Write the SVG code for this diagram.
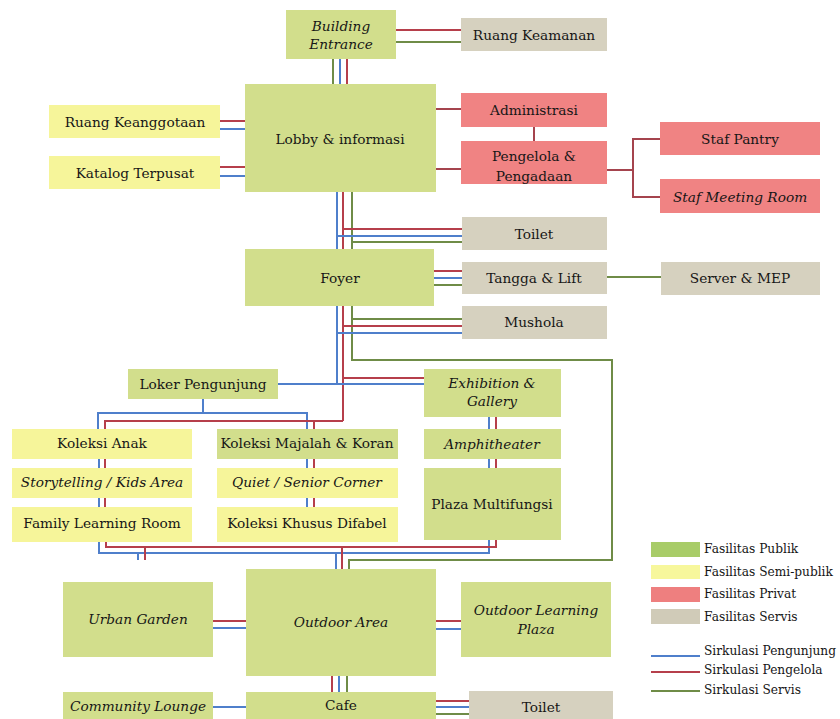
<svg xmlns="http://www.w3.org/2000/svg" width="840" height="719" viewBox="0 0 840 719">
<style>
.pub{fill:#d2de8c}
.semi{fill:#f6f59a}
.priv{fill:#f08383}
.serv{fill:#d6d1bf}
text{font-family:"DejaVu Serif","Liberation Serif",serif;font-size:13.7px;fill:#161616;text-anchor:middle;dominant-baseline:central}
.it{font-style:italic}
.lg{text-anchor:start;font-size:12.2px}
.b{stroke:#4f7fcb;stroke-width:2;fill:none}
.r{stroke:#b63f4b;stroke-width:2;fill:none}
.g{stroke:#6f8c47;stroke-width:2;fill:none}
.p{stroke:#a5444e;stroke-width:2;fill:none}
</style>
<rect width="840" height="719" fill="#ffffff"/>

<g id="connectors">
  <line class="r" x1="396" y1="30" x2="461" y2="30"/>
  <line class="g" x1="396" y1="42" x2="461" y2="42"/>
  <line class="g" x1="333" y1="59" x2="333" y2="84"/>
  <line class="b" x1="340" y1="59" x2="340" y2="84"/>
  <line class="r" x1="347" y1="59" x2="347" y2="84"/>
  <line class="r" x1="220" y1="121" x2="245" y2="121"/>
  <line class="b" x1="220" y1="129" x2="245" y2="129"/>
  <line class="r" x1="220" y1="167" x2="245" y2="167"/>
  <line class="b" x1="220" y1="176" x2="245" y2="176"/>
  <line class="p" x1="436" y1="109" x2="461" y2="109"/>
  <line class="p" x1="436" y1="169" x2="461" y2="169"/>
  <line class="p" x1="534" y1="127" x2="534" y2="141"/>
  <polyline class="p" points="607,170 633,170"/>
  <polyline class="p" points="660,139 633,139 633,197 660,197"/>
  <line class="b" x1="337" y1="192" x2="337" y2="249"/>
  <line class="r" x1="343" y1="192" x2="343" y2="249"/>
  <line class="g" x1="352" y1="192" x2="352" y2="249"/>
  <line class="r" x1="343" y1="229" x2="462" y2="229"/>
  <line class="b" x1="337" y1="236" x2="462" y2="236"/>
  <line class="g" x1="352" y1="242" x2="462" y2="242"/>
  <line class="r" x1="434" y1="271" x2="462" y2="271"/>
  <line class="b" x1="434" y1="278" x2="462" y2="278"/>
  <line class="g" x1="434" y1="285" x2="462" y2="285"/>
  <line class="g" x1="607" y1="277" x2="661" y2="277"/>
  <line class="b" x1="337" y1="306" x2="337" y2="384"/>
  <line class="r" x1="343" y1="306" x2="343" y2="421"/>
  <polyline class="g" points="352,306 352,360 612,360 612,560 349,560 349,569"/>
  <line class="g" x1="352" y1="319" x2="462" y2="319"/>
  <line class="r" x1="343" y1="326" x2="462" y2="326"/>
  <line class="b" x1="337" y1="333" x2="462" y2="333"/>
  <line class="r" x1="343" y1="378" x2="424" y2="378"/>
  <line class="b" x1="278" y1="384" x2="424" y2="384"/>
  <line class="b" x1="203" y1="399" x2="203" y2="413"/>
  <polyline class="b" points="98,429 98,413 307,413 307,429"/>
  <polyline class="r" points="105,429 105,421 343,421"/>
  <line class="r" x1="314" y1="421" x2="314" y2="429"/>
  <line class="b" x1="99" y1="459" x2="99" y2="468"/>
  <line class="r" x1="105" y1="459" x2="105" y2="468"/>
  <line class="b" x1="99" y1="498" x2="99" y2="507"/>
  <line class="r" x1="105" y1="498" x2="105" y2="507"/>
  <line class="b" x1="307" y1="459" x2="307" y2="468"/>
  <line class="r" x1="314" y1="459" x2="314" y2="468"/>
  <line class="b" x1="307" y1="498" x2="307" y2="507"/>
  <line class="r" x1="314" y1="498" x2="314" y2="507"/>
  <line class="b" x1="489" y1="417" x2="489" y2="429"/>
  <line class="r" x1="496" y1="417" x2="496" y2="429"/>
  <line class="b" x1="489" y1="459" x2="489" y2="468"/>
  <line class="r" x1="496" y1="459" x2="496" y2="468"/>
  <polyline class="b" points="99,542 99,553 489,553 489,540"/>
  <polyline class="r" points="106,542 106,547 496,547 496,540"/>
  <line class="b" x1="138" y1="553" x2="138" y2="560"/>
  <line class="r" x1="145" y1="547" x2="145" y2="560"/>
  <line class="b" x1="336" y1="553" x2="336" y2="569"/>
  <line class="r" x1="342" y1="547" x2="342" y2="569"/>
  <line class="r" x1="213" y1="621" x2="246" y2="621"/>
  <line class="b" x1="213" y1="628" x2="246" y2="628"/>
  <line class="r" x1="436" y1="621" x2="461" y2="621"/>
  <line class="b" x1="436" y1="629" x2="461" y2="629"/>
  <line class="r" x1="332" y1="676" x2="332" y2="692"/>
  <line class="b" x1="339" y1="676" x2="339" y2="692"/>
  <line class="g" x1="347" y1="676" x2="347" y2="692"/>
  <line class="b" x1="213" y1="707" x2="246" y2="707"/>
  <line class="r" x1="436" y1="701" x2="469" y2="701"/>
  <line class="b" x1="436" y1="707" x2="469" y2="707"/>
  <line class="g" x1="436" y1="714" x2="469" y2="714"/>
</g>

<g id="building-entrance"><rect class="pub" x="286" y="10" width="110" height="49"/><text class="it" x="341" y="26">Building</text><text class="it" x="341" y="44">Entrance</text></g>
<g id="ruang-keamanan"><rect class="serv" x="461" y="18" width="146" height="33"/><text x="534" y="35">Ruang Keamanan</text></g>
<g id="lobby"><rect class="pub" x="245" y="84" width="191" height="108"/><text x="340" y="139">Lobby &amp; informasi</text></g>
<g id="ruang-keanggotaan"><rect class="semi" x="49" y="105" width="171" height="33"/><text x="135" y="122">Ruang Keanggotaan</text></g>
<g id="katalog"><rect class="semi" x="49" y="156" width="171" height="33"/><text x="135" y="173">Katalog Terpusat</text></g>
<g id="administrasi"><rect class="priv" x="461" y="93" width="146" height="34"/><text x="534" y="110">Administrasi</text></g>
<g id="pengelola"><rect class="priv" x="461" y="141" width="146" height="43"/><text x="534" y="156">Pengelola &amp;</text><text x="534" y="176">Pengadaan</text></g>
<g id="staf-pantry"><rect class="priv" x="660" y="122" width="160" height="33"/><text x="740" y="139">Staf Pantry</text></g>
<g id="staf-meeting"><rect class="priv" x="660" y="179" width="160" height="34"/><text class="it" x="740" y="197">Staf Meeting Room</text></g>
<g id="toilet-1"><rect class="serv" x="462" y="217" width="145" height="33"/><text x="534" y="234">Toilet</text></g>
<g id="foyer"><rect class="pub" x="245" y="249" width="189" height="57"/><text x="340" y="278">Foyer</text></g>
<g id="tangga"><rect class="serv" x="462" y="262" width="145" height="32"/><text x="534" y="278">Tangga &amp; Lift</text></g>
<g id="server"><rect class="serv" x="661" y="262" width="159" height="33"/><text x="740" y="278">Server &amp; MEP</text></g>
<g id="mushola"><rect class="serv" x="462" y="306" width="145" height="33"/><text x="534" y="322">Mushola</text></g>
<g id="loker"><rect class="pub" x="128" y="369" width="150" height="30"/><text x="203" y="384">Loker Pengunjung</text></g>
<g id="exhibition"><rect class="pub" x="424" y="369" width="137" height="48"/><text class="it" x="492" y="383">Exhibition &amp;</text><text class="it" x="492" y="401">Gallery</text></g>
<g id="amphitheater"><rect class="pub" x="424" y="429" width="137" height="30"/><text class="it" x="492" y="444">Amphitheater</text></g>
<g id="plaza"><rect class="pub" x="424" y="468" width="137" height="72"/><text x="492" y="504">Plaza Multifungsi</text></g>
<g id="koleksi-anak"><rect class="semi" x="12" y="429" width="180" height="30"/><text x="102" y="443">Koleksi Anak</text></g>
<g id="storytelling"><rect class="semi" x="12" y="468" width="180" height="30"/><text class="it" x="102" y="482">Storytelling / Kids Area</text></g>
<g id="family"><rect class="semi" x="12" y="507" width="180" height="35"/><text x="102" y="523">Family Learning Room</text></g>
<g id="majalah"><rect class="pub" x="217" y="429" width="181" height="30"/><text x="307" y="443">Koleksi Majalah &amp; Koran</text></g>
<g id="quiet"><rect class="semi" x="217" y="468" width="181" height="30"/><text class="it" x="307" y="482">Quiet / Senior Corner</text></g>
<g id="difabel"><rect class="semi" x="217" y="507" width="181" height="35"/><text x="307" y="523">Koleksi Khusus Difabel</text></g>
<g id="urban-garden"><rect class="pub" x="63" y="582" width="150" height="75"/><text class="it" x="138" y="619">Urban Garden</text></g>
<g id="outdoor-area"><rect class="pub" x="246" y="569" width="190" height="107"/><text class="it" x="341" y="622">Outdoor Area</text></g>
<g id="outdoor-learning"><rect class="pub" x="461" y="582" width="150" height="75"/><text class="it" x="536" y="610">Outdoor Learning</text><text class="it" x="536" y="629">Plaza</text></g>
<g id="community-lounge"><rect class="pub" x="63" y="692" width="150" height="27"/><text class="it" x="138" y="706">Community Lounge</text></g>
<g id="cafe"><rect class="pub" x="246" y="692" width="190" height="27"/><text x="341" y="705">Cafe</text></g>
<g id="toilet-2"><rect class="serv" x="469" y="691" width="144" height="28"/><text x="541" y="707">Toilet</text></g>

<g id="legend">
  <rect x="651" y="542" width="49" height="15" fill="#a8cc68"/>
  <rect x="651" y="565" width="49" height="14" fill="#f7f79c"/>
  <rect x="651" y="587" width="49" height="15" fill="#ee7f7f"/>
  <rect x="651" y="609" width="49" height="15" fill="#d0cbb8"/>
  <text class="lg" x="704" y="549">Fasilitas Publik</text>
  <text class="lg" x="704" y="572">Fasilitas Semi-publik</text>
  <text class="lg" x="704" y="594">Fasilitas Privat</text>
  <text class="lg" x="704" y="617">Fasilitas Servis</text>
  <line class="b" x1="651" y1="656" x2="700" y2="656"/>
  <line class="r" x1="651" y1="672" x2="700" y2="672"/>
  <line class="g" x1="651" y1="691" x2="700" y2="691"/>
  <text class="lg" x="704" y="651">Sirkulasi Pengunjung</text>
  <text class="lg" x="704" y="670">Sirkulasi Pengelola</text>
  <text class="lg" x="704" y="690">Sirkulasi Servis</text>
</g>
</svg>
